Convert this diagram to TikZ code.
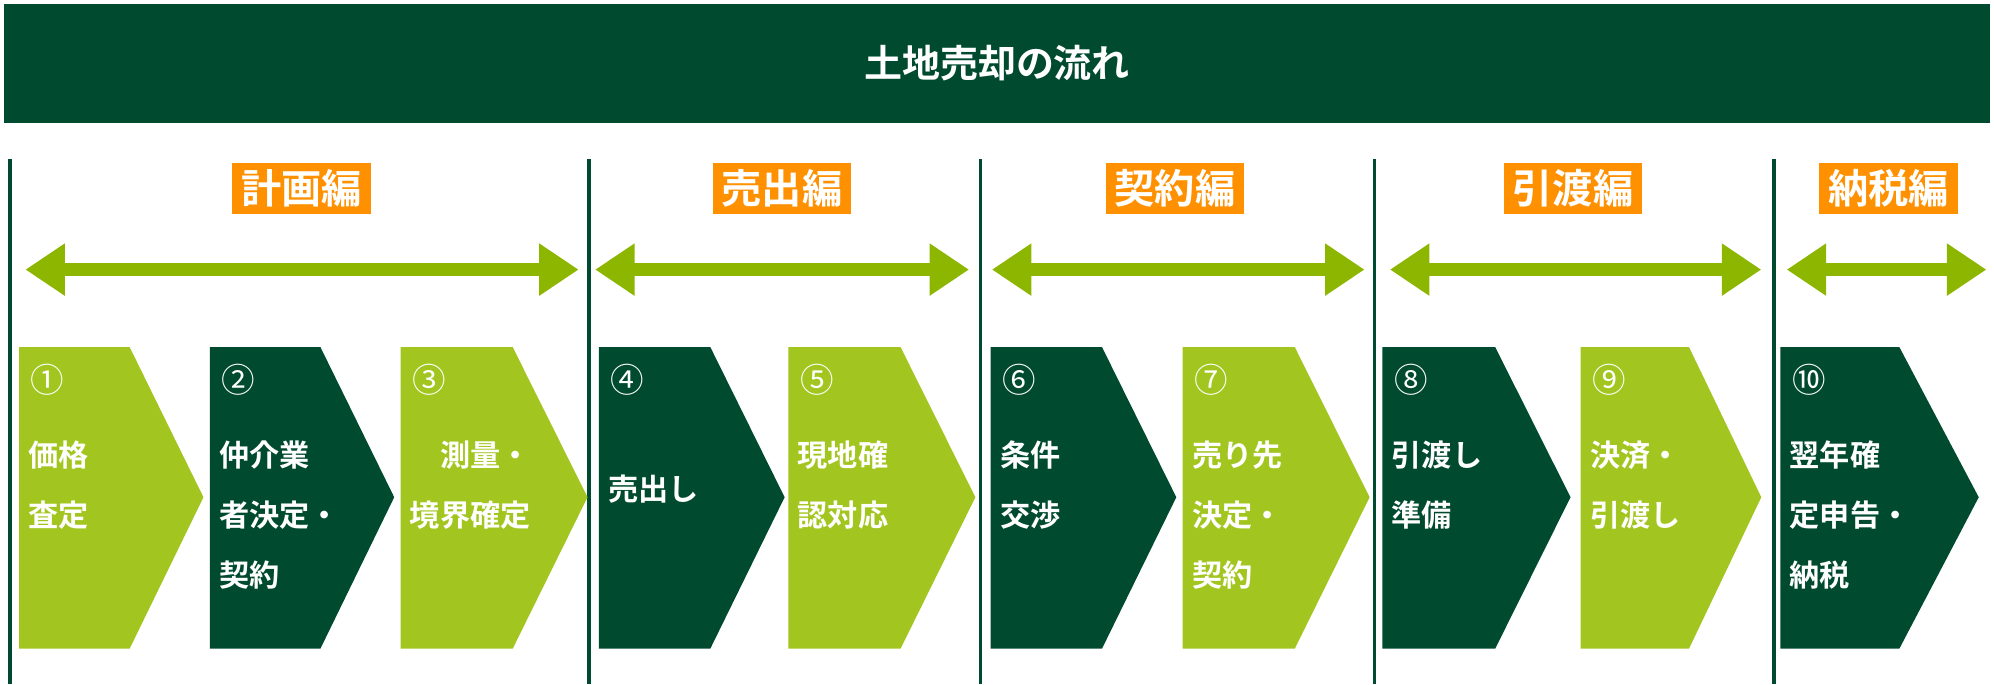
\documentclass[tikz,border=0pt]{standalone}
\usepackage{fontspec}
\newfontfamily\jpfont{Noto Sans CJK JP}[BoldFont={* Bold}]
\usetikzlibrary{arrows.meta}
\definecolor{deepgreen}{HTML}{004A30}
\definecolor{leafgreen}{HTML}{A2C61F}
\definecolor{arrowgreen}{HTML}{8DB600}
\definecolor{phaseorange}{HTML}{FF9000}
\tikzset{
  phase/.style={fill=phaseorange,text=white,font=\jpfont\bfseries\fontsize{18}{20}\selectfont,inner xsep=4pt,inner ysep=3pt},
  steptext/.style={text=white,font=\jpfont\bfseries\fontsize{13.5}{27}\selectfont,anchor=north west,align=left,inner sep=0pt},
  stepnum/.style={text=white,font=\jpfont\fontsize{15}{15}\selectfont,anchor=north west,inner sep=0pt},
}
\begin{document}
\begin{tikzpicture}[x=0.02cm,y=-0.02cm]
\useasboundingbox (0,0) rectangle (1568,538);
\fill [deepgreen] (3,3) rectangle (1565,97);
\node [text=white,font=\jpfont\bfseries\fontsize{17}{20}\selectfont] (title) at (784,50) {土地売却の流れ};

% section dividers
\foreach \x in {8,463,771,1081,1395}
  \draw [deepgreen, line width=1.6pt] (\x,125) -- (\x,538);

% phase labels
\node [phase] (plan) at (237,148) {計画編};
\node [phase] (sell) at (615,148) {売出編};
\node [phase] (deal) at (924,148) {契約編};
\node [phase] (hand) at (1237,148) {引渡編};
\node [phase] (tax) at (1485,148) {納税編};

% span arrows
\foreach \a/\b in {20/455,468/762,780/1073,1093/1385,1405/1562} {
  \coordinate (l) at (\a,212); \coordinate (r) at (\b,212);
  \draw [arrowgreen, line width=0.2cm, {Triangle[length=0.62cm,width=0.78cm]}-{Triangle[length=0.62cm,width=0.78cm]}] (l) -- (r);
}

% steps
\foreach \n/\x/\c/\t/\txt in {
  1/15/leafgreen/160/{価格\\査定},
  2/165/deepgreen/310/{仲介業\\者決定・\\契約},
  3/315/leafgreen/462/{\hphantom{境}測量・\\境界確定},
  4/471/deepgreen/617/{\\売出し},
  5/620/leafgreen/767/{現地確\\認対応},
  6/779/deepgreen/925/{条件\\交渉},
  7/930/leafgreen/1077/{売り先\\決定・\\契約},
  8/1087/deepgreen/1235/{引渡し\\準備},
  9/1243/leafgreen/1385/{決済・\\引渡し},
  10/1400/deepgreen/1556/{翌年確\\定申告・\\納税}} {
  \fill [\c] (\x,273) -- (\x+0.6*\t-0.6*\x,273) -- (\t,391) -- (\x+0.6*\t-0.6*\x,510) -- (\x,510) -- cycle;
  \node [stepnum] (num\n) at (\x+9,286) {\ifcase\n\or ①\or ②\or ③\or ④\or ⑤\or ⑥\or ⑦\or ⑧\or ⑨\or ⑩\fi};
  \node [steptext] (txt\n) at (\x+7,346) {\txt};
}
\end{tikzpicture}
\end{document}
